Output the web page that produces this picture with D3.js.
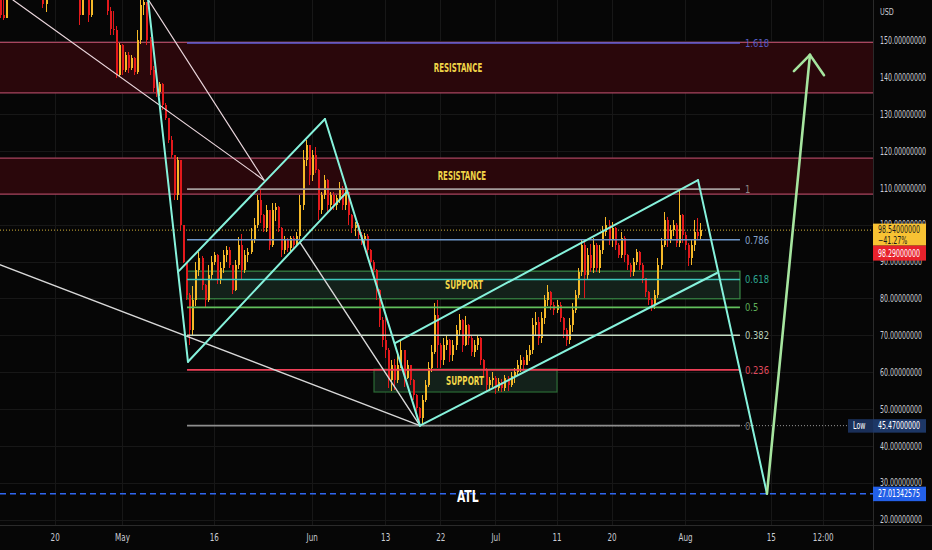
<!DOCTYPE html>
<html><head><meta charset="utf-8">
<script src="https://cdn.jsdelivr.net/npm/d3@7"></script>
<style>html,body{margin:0;padding:0;background:#060606;overflow:hidden}svg{display:block}</style>
</head><body>
<svg id="c" width="932" height="550"></svg>
<script>
// ---------------- DATA ----------------
const startTime = "2022-04-11T00:00:00Z";   // first 12h candle
const firstOpen = 162;
const closes = [
157,156.1,164,167,169,168,170,172,171,169,
170,168,166,165,160,164,166,168,170,172,
171,169,167,168,166,163,157,162,165,157,
163,165,167,166,164,158,153,152.8,140.6,148.8,
142,146.1,142.5,145.3,141.5,150.1,159.6,160.5,150.1,142,
137.1,136,138.2,132.5,129,123,118.9,108.1,117.6,99.9,
89.9,81,71.4,79.6,87.7,91,83.6,79.6,86.4,89.9,
91.8,85,88.3,91.8,93.2,89.1,82.3,89.1,94.5,87.7,
91.8,92.6,95.9,99.9,106.7,102.6,99.1,104,94.5,104,
104.8,99.1,93.2,95.9,93.7,96.4,94.5,97,105.4,117.6,
121.6,113.5,118.9,114.9,104,108.1,112.1,105.4,108.1,105.4,
107.2,110,105.4,108.9,102.6,99.1,99.9,97.2,95.9,97,
93.2,89.9,87.7,82.3,74.2,68.7,66,57.9,61.9,57.9,
61.9,66,58.4,61.9,57.9,53.8,50.3,47.6,52.4,56.5,
61.1,65.5,75.5,67.4,63.3,67.4,68.7,64.6,67.4,71.4,
74.2,67.4,72.7,69.2,65.5,67.4,69.2,63.3,60.6,56.5,
57.9,58.4,55.7,57.3,55.7,58.4,56.5,58.9,60,61.9,
63.3,61.9,64.6,66,72.7,73.6,69.2,74.8,79.6,81.7,
78.2,76.9,78.2,74.8,71.4,68.7,72.7,76.9,81,87.2,
94.5,86.4,91.8,88.3,94.5,88.3,93.2,98,99.9,95.9,
99.1,94.5,91.8,96.4,91.8,89.1,87.2,89.9,92.6,89.1,
85.5,81.7,79.6,78.2,81,89.1,94.5,101.3,95.9,98.6,
99.9,95.1,102.6,97.2,94.5,91,94.5,98,97,98.54];
const highs = [
165,163,168,170,172,171,174,175,174,172,
173,171,169,168,166,165,169,171,173,176,
174,172,170,171,169,167,164,163,167,166,
164,168,170,169,168,165,159,158,154,149.3,
149,146.9,147,146.1,145.5,152.8,161,162.5,160.5,151,
143,139,138.7,138.5,133,129,124,119,118.4,117,
100,90,81.5,83.4,89.9,92.6,91.5,84,89.1,91.5,
92.6,92,89.9,93.2,94.2,94,89,90.4,96.7,97.5,
93.2,93.7,99.1,101.8,108.1,109.4,103,105.4,104,105.9,
105.9,105,99.5,97,96.5,97,97,98,108.1,120.3,
123,120.8,120.3,121.1,115,109,113.5,112.5,109,109,
108.1,111.6,110.5,110.8,109,103,100.8,100.5,98,97.8,
97.5,93.5,90.5,88,82.5,75,75,66.5,63.3,63.5,
64.6,68.7,66,63.3,62,58,54,50.5,53.8,57.9,
62.7,67.4,78.8,79.6,68,69.2,70.1,69,68.7,72.7,
75.8,74.5,75.2,73,70,68.7,70.1,69.5,63.5,61,
58.7,60,59,58.4,58,59.2,59,60,61.1,63.3,
64.6,64,65.9,67.4,74.6,76.3,75,76.3,80.9,83.6,
82,79,79.6,79,75,72,74.6,78.8,82.3,88.3,
95.9,95.3,93.7,94.8,96.4,95,94.5,99.6,102.1,101.3,
100.8,99.5,95,98,97,92,89.5,91,93.4,93,
89.5,84,82,80,82.3,91,96.4,103.5,102,99.9,
101.3,100.5,109.4,103,98,95,95.9,101.3,101.7,100.5];
const lows = [
156,155.5,162,163,165,166,167,168,168,166,
167,165,163,162.5,158.8,157.7,163,164,166,168,
167,165,163,164,162.5,161.5,154.2,158,161,155,
156.5,162,163,162.5,161.5,157,151.5,151.5,139.8,140,
140.6,141.5,141.2,142,140.6,141,149,157,148.8,140.6,
136,134.7,135,131.1,128.4,122.2,118.1,106.7,106.7,98.6,
89.5,79.6,67.4,70.1,78,86,82.3,77.7,79,85,
89,83.9,84,87,90,88.3,81.2,82,88,85,
87,90,92,95,99,100.5,98,98,93.2,94,
101,98,91.3,92,92.6,93,93.7,94,96,104,
116,110.8,112,114,101.3,103,107,103.5,104,104,
104,106,104,104,99.9,97.8,97,95.9,94.5,94.5,
91.8,88.3,86.4,79.6,72.2,66.8,63.8,55.7,55,55.2,
57,61,56,58,56.5,52.4,49.2,46.5,45.47,52,
56,60,65,61.1,61.1,62,66,62.7,63,66,
70,65.5,67,67.4,64.4,64,66,61.9,59,54.6,
55,56,54.1,55,54.6,55,55,56,57,59,
60,60.6,62,63,65,70,67.4,68,73,78,
76.9,75.5,76,73.6,69.3,67.1,67.5,71,76,80,
86,80.2,85,87.2,87,87.2,87,92,97,94.5,
94,93.2,91,91,89.9,87.7,85.8,86,89,87.7,
84.1,80.4,78.2,76.6,77,80,88,94,94,95,
97,93.9,94,95.1,93.2,88.8,89,93,96,96];

const priceTicks = [20,30,40,50,60,70,80,90,100,110,120,130,140,150];
const timeTicks = [
 ["2022-04-20T00:00:00Z","20"],["2022-05-01T00:00:00Z","May"],["2022-05-16T00:00:00Z","16"],
 ["2022-06-01T00:00:00Z","Jun"],["2022-06-13T00:00:00Z","13"],["2022-06-22T00:00:00Z","22"],
 ["2022-07-01T00:00:00Z","Jul"],["2022-07-11T00:00:00Z","11"],["2022-07-20T00:00:00Z","20"],
 ["2022-08-01T00:00:00Z","Aug"],["2022-08-15T00:00:00Z","15"],["2022-08-23T12:00:00Z","12:00"]];

const lastPrice = 98.54, lastChange = "\u221241.27%", prevPrice = 98.29;
const lowPrice = 45.47, atlPrice = 27.01342575;

// Fibonacci retracement (0 = 45.47, 1 = 109.65)
const fibStart = "2022-05-11T15:00:00Z", fibEnd = "2022-08-09T23:30:00Z";
const fibLevels = [
 {lv:"0",     p:45.47},
 {lv:"0.236", p:60.62},
 {lv:"0.382", p:69.99},
 {lv:"0.5",   p:77.56},
 {lv:"0.618", p:85.13},
 {lv:"0.786", p:95.92},
 {lv:"1",     p:109.65},
 {lv:"1.618", p:149.32}];

// zones [top, bottom] in price
const resistanceZones = [[149.5,135.8],[118.1,108.3]];
const supportZones = [
 {t0:fibStart, t1:fibEnd, top:87.4, bot:79.9},
 {t0:"2022-06-11T04:20:00Z", t1:"2022-07-11T02:00:00Z", top:60.8, bot:54.6}];

// drawn trend lines: [[time, price],[time, price]]
const P = {
 w1Start:["2022-04-13T04:30:00Z",161], peakTop:["2022-05-05T06:00:00Z",161.2],
 wConv:["2022-05-24T05:00:00Z",112.1], w2Start:["2022-04-11T00:00:00Z",89.2],
 lowPt:["2022-06-18T16:30:00Z",45.47], w3Start:["2022-05-30T02:00:00Z",95.2],
 cA:["2022-05-11T18:45:00Z",62.8], upStart:["2022-05-10T03:40:00Z",87.2],
 apex1:["2022-06-03T04:00:00Z",128.7], lowEnd1:["2022-06-06T18:15:00Z",108.9],
 ch2Start:["2022-06-14T14:40:00Z",67.9], apex2:["2022-08-03T03:00:00Z",112.1],
 ch2LowEnd:["2022-08-06T05:15:00Z",86.9], vBottom:["2022-08-14T09:20:00Z",27.0],
 arrowTip:["2022-08-21T10:00:00Z",146.1], arrowL:["2022-08-18T19:00:00Z",141.7],
 arrowR:["2022-08-23T17:00:00Z",140.6]};
const whiteLines = [[P.w1Start,P.wConv],[P.peakTop,P.wConv],[P.w2Start,P.lowPt],[P.w3Start,P.lowPt]];
const cyanLines = [[P.peakTop,P.cA],[P.cA,P.lowEnd1],[P.upStart,P.apex1],[P.apex1,P.lowPt],
                   [P.lowPt,P.ch2LowEnd],[P.ch2Start,P.apex2],[P.apex2,P.vBottom]];
const arrowLines = [[P.vBottom,P.arrowTip],[P.arrowL,P.arrowTip],[P.arrowTip,P.arrowR]];

const textLabels = [
 {txt:"RESISTANCE", t:"2022-06-24T21:40:00Z", p:142.6},
 {txt:"RESISTANCE", t:"2022-06-25T13:00:00Z", p:113.2},
 {txt:"SUPPORT",    t:"2022-06-25T21:00:00Z", p:83.65},
 {txt:"SUPPORT",    t:"2022-06-26T01:00:00Z", p:57.7}];
const atlLabel = {txt:"ATL", t:"2022-06-26T12:00:00Z", p:26.4};

// ---------------- CHART ----------------
const W = 932, H = 550, plotR = 873, plotB = 525;
const FONT = "'Liberation Sans Narrow','DejaVu Sans Condensed','Arial Narrow','Liberation Sans',Arial,sans-serif";
const svg = d3.select("#c");
const x = d3.scaleUtc().domain([new Date("2022-05-01T00:00:00Z"), new Date("2022-08-15T00:00:00Z")]).range([122, 770.7]);
const y = d3.scaleLinear().domain([20,150]).range([519.5,40.5]);
const X = t => x(new Date(t));

svg.append("rect").attr("width",W).attr("height",H).attr("fill","#060606");
const defs = svg.append("defs");
defs.append("clipPath").attr("id","plotClip").append("rect").attr("x",0).attr("y",0).attr("width",plotR).attr("height",plotB);

const plot = svg.append("g").attr("clip-path","url(#plotClip)");

// grid
plot.selectAll("line.hg").data(priceTicks).join("line")
  .attr("x1",0).attr("x2",plotR).attr("y1",d=>Math.round(y(d))+0.5).attr("y2",d=>Math.round(y(d))+0.5)
  .attr("stroke","#171717").attr("stroke-width",1);
plot.selectAll("line.vg").data(timeTicks).join("line")
  .attr("y1",0).attr("y2",plotB).attr("x1",d=>Math.round(X(d[0]))+0.5).attr("x2",d=>Math.round(X(d[0]))+0.5)
  .attr("stroke","#171717").attr("stroke-width",1);

// resistance zones
resistanceZones.forEach(z=>{
  plot.append("rect").attr("x",0).attr("width",plotR).attr("y",y(z[0])).attr("height",y(z[1])-y(z[0]))
    .attr("fill","#2a070b");
  [z[0],z[1]].forEach(p=>plot.append("line").attr("x1",0).attr("x2",plotR).attr("y1",y(p)).attr("y2",y(p))
    .attr("stroke","#a8455f").attr("stroke-width",1.3));
});
// support zones
supportZones.forEach((z,i)=>{
  plot.append("rect").attr("x",X(z.t0)).attr("width",X(z.t1)-X(z.t0)).attr("y",y(z.top)).attr("height",y(z.bot)-y(z.top))
    .attr("fill","#13211a").attr("stroke", i===0?"#3a8a46":"#2c6a35").attr("stroke-width",1.2);
});

// current price dotted line, low dotted line, ATL dashed line
plot.append("line").attr("x1",0).attr("x2",plotR).attr("y1",y(lastPrice)).attr("y2",y(lastPrice))
  .attr("stroke","#d7b23a").attr("stroke-width",1).attr("stroke-dasharray","1,2");
plot.append("line").attr("x1",X(P.lowPt[0])).attr("x2",plotR).attr("y1",y(lowPrice)).attr("y2",y(lowPrice))
  .attr("stroke","#9a9a9a").attr("stroke-width",1).attr("stroke-dasharray","1,2");
plot.append("line").attr("x1",0).attr("x2",plotR).attr("y1",y(atlPrice)).attr("y2",y(atlPrice))
  .attr("stroke","#2f66f0").attr("stroke-width",1.5).attr("stroke-dasharray","6,4");

// candles
const t0 = Date.parse(startTime);
const candles = closes.map((c,k)=>({t:new Date(t0 + k*43200000), o: k===0?firstOpen:closes[k-1], h:highs[k], l:lows[k], c}));
const UP = "#f5b928", DOWN = "#e3191c";
const cg = plot.append("g").attr("shape-rendering","crispEdges");
cg.selectAll("rect.w").data(candles).join("rect")
  .attr("x",d=>Math.round(x(d.t))).attr("width",1)
  .attr("y",d=>y(Math.max(d.h,d.o,d.c))).attr("height",d=>y(Math.min(d.l,d.o,d.c))-y(Math.max(d.h,d.o,d.c)))
  .attr("fill",d=>d.c>=d.o?UP:DOWN);
cg.selectAll("rect.b").data(candles).join("rect")
  .attr("x",d=>Math.round(x(d.t))-0.5).attr("width",2)
  .attr("y",d=>y(Math.max(d.o,d.c))).attr("height",d=>Math.max(1,Math.abs(y(d.o)-y(d.c))))
  .attr("fill",d=>d.c>=d.o?UP:DOWN);

// fib levels
const fibColors = {"0":"#8e8e8e","0.236":"#ef3f57","0.382":"#c5dcc5","0.5":"#62bf5c","0.618":"#3ec9bd","0.786":"#6f97c9","1":"#a39b9b","1.618":"#5f5fd8"};
const fibLabelColors = {"0":"#7a7a7a","0.236":"#e04b5e","0.382":"#b9cfb9","0.5":"#5fae5a","0.618":"#2ea58f","0.786":"#86a3cc","1":"#8c8888","1.618":"#575cc4"};
plot.selectAll("line.fib").data(fibLevels).join("line")
  .attr("x1",X(fibStart)).attr("x2",X(fibEnd)).attr("y1",d=>y(d.p)).attr("y2",d=>y(d.p))
  .attr("stroke",d=>fibColors[d.lv]).attr("stroke-width",1.6);
plot.selectAll("text.fib").data(fibLevels).join("text")
  .attr("transform",d=>`translate(${X(fibEnd)+5},${y(d.p)}) scale(0.85,1)`).attr("dy","0.36em")
  .attr("fill",d=>fibLabelColors[d.lv]).attr("font-family",FONT).attr("font-size",11).text(d=>d.lv);

// trend lines
const seg = (g, data, color, w) => g.selectAll(null).data(data).join("line")
  .attr("x1",d=>X(d[0][0])).attr("y1",d=>y(d[0][1])).attr("x2",d=>X(d[1][0])).attr("y2",d=>y(d[1][1]))
  .attr("stroke",color).attr("stroke-width",w).attr("stroke-linecap","round");
seg(plot, whiteLines.slice(0,2), "#e8d4da", 1.2);
seg(plot, whiteLines.slice(2), "#d8d8d8", 1.4);
seg(plot, cyanLines, "#86f2dc", 2);
seg(plot, arrowLines, "#a6e59f", 2.6);

// zone texts
plot.selectAll("text.zl").data(textLabels).join("text")
  .attr("transform",d=>`translate(${X(d.t)},${y(d.p)}) scale(${d.txt==="RESISTANCE"?0.68:0.7},1)`)
  .attr("dy","0.36em").attr("text-anchor","middle")
  .attr("fill","#f0d548").attr("font-family",FONT).attr("font-size",11.5).attr("font-weight","bold").text(d=>d.txt);
plot.append("text").attr("transform",`translate(${X(atlLabel.t)},${y(atlLabel.p)}) scale(0.75,1)`)
  .attr("dy","0.36em").attr("text-anchor","middle")
  .attr("fill","#ffffff").attr("font-family",FONT).attr("font-size",16).attr("font-weight","bold").text(atlLabel.txt);

// axis separators
svg.append("line").attr("x1",plotR+0.5).attr("x2",plotR+0.5).attr("y1",0).attr("y2",H).attr("stroke","#2a2a2a");
svg.append("line").attr("x1",0).attr("x2",W).attr("y1",plotB+0.5).attr("y2",plotB+0.5).attr("stroke","#2a2a2a");

// axes
const yAxis = d3.axisRight(y).tickValues(priceTicks).tickFormat(d=>d.toFixed(8)).tickSize(0).tickPadding(7);
const ya = svg.append("g").attr("transform",`translate(${plotR},0)`).call(yAxis);
ya.select(".domain").remove();
ya.selectAll("text").attr("x",0).attr("transform","translate(7,0) scale(0.7,1)")
  .attr("fill","#c9ccd3").attr("font-size",10).attr("font-family",FONT);

const tickMap = new Map(timeTicks.map(d=>[Date.parse(d[0]), d[1]]));
const xAxis = d3.axisBottom(x).tickValues(timeTicks.map(d=>new Date(d[0]))).tickFormat(d=>tickMap.get(+d)).tickSize(0).tickPadding(9);
const xa = svg.append("g").attr("transform",`translate(0,${plotB})`).call(xAxis);
xa.select(".domain").remove();
xa.selectAll("text").attr("transform","scale(0.8,1)").attr("fill","#c9ccd3").attr("font-size",10).attr("font-family",FONT);

svg.append("text").attr("transform","translate(880,15) scale(0.8,1)").attr("fill","#c9ccd3").attr("font-size",9).attr("font-family",FONT).text("USD");

// price labels on the axis
const lab = (yc, h, fill, lines, color, x0=plotR, w=53, pad=5) => {
  svg.append("rect").attr("x",x0).attr("y",yc).attr("width",w).attr("height",h).attr("fill",fill);
  lines.forEach((s,i)=>svg.append("text")
    .attr("transform",`translate(${x0+pad},${yc+h/lines.length*(i+0.5)}) scale(0.7,1)`).attr("dy","0.35em")
    .attr("fill",color).attr("font-size",10).attr("font-family",FONT).text(s));
};
const yl = y(lastPrice);
lab(yl-6.5, 22, "#f7c233", [lastPrice.toFixed(8), lastChange], "#1a1a1a");
lab(yl+15.5, 15, "#e8222c", [prevPrice.toFixed(8)], "#ffffff");
const yLow = y(lowPrice);
lab(yLow-6.5, 13.5, "#1d3766", [lowPrice.toFixed(8)], "#ffffff");
lab(yLow-6.5, 13.5, "#1a2f58", ["Low"], "#ffffff", 848, 25, 5);
const yAtl = y(atlPrice);
lab(yAtl-7, 14.5, "#2360e8", [atlPrice.toFixed(8)], "#ffffff");
</script>
</body></html>
